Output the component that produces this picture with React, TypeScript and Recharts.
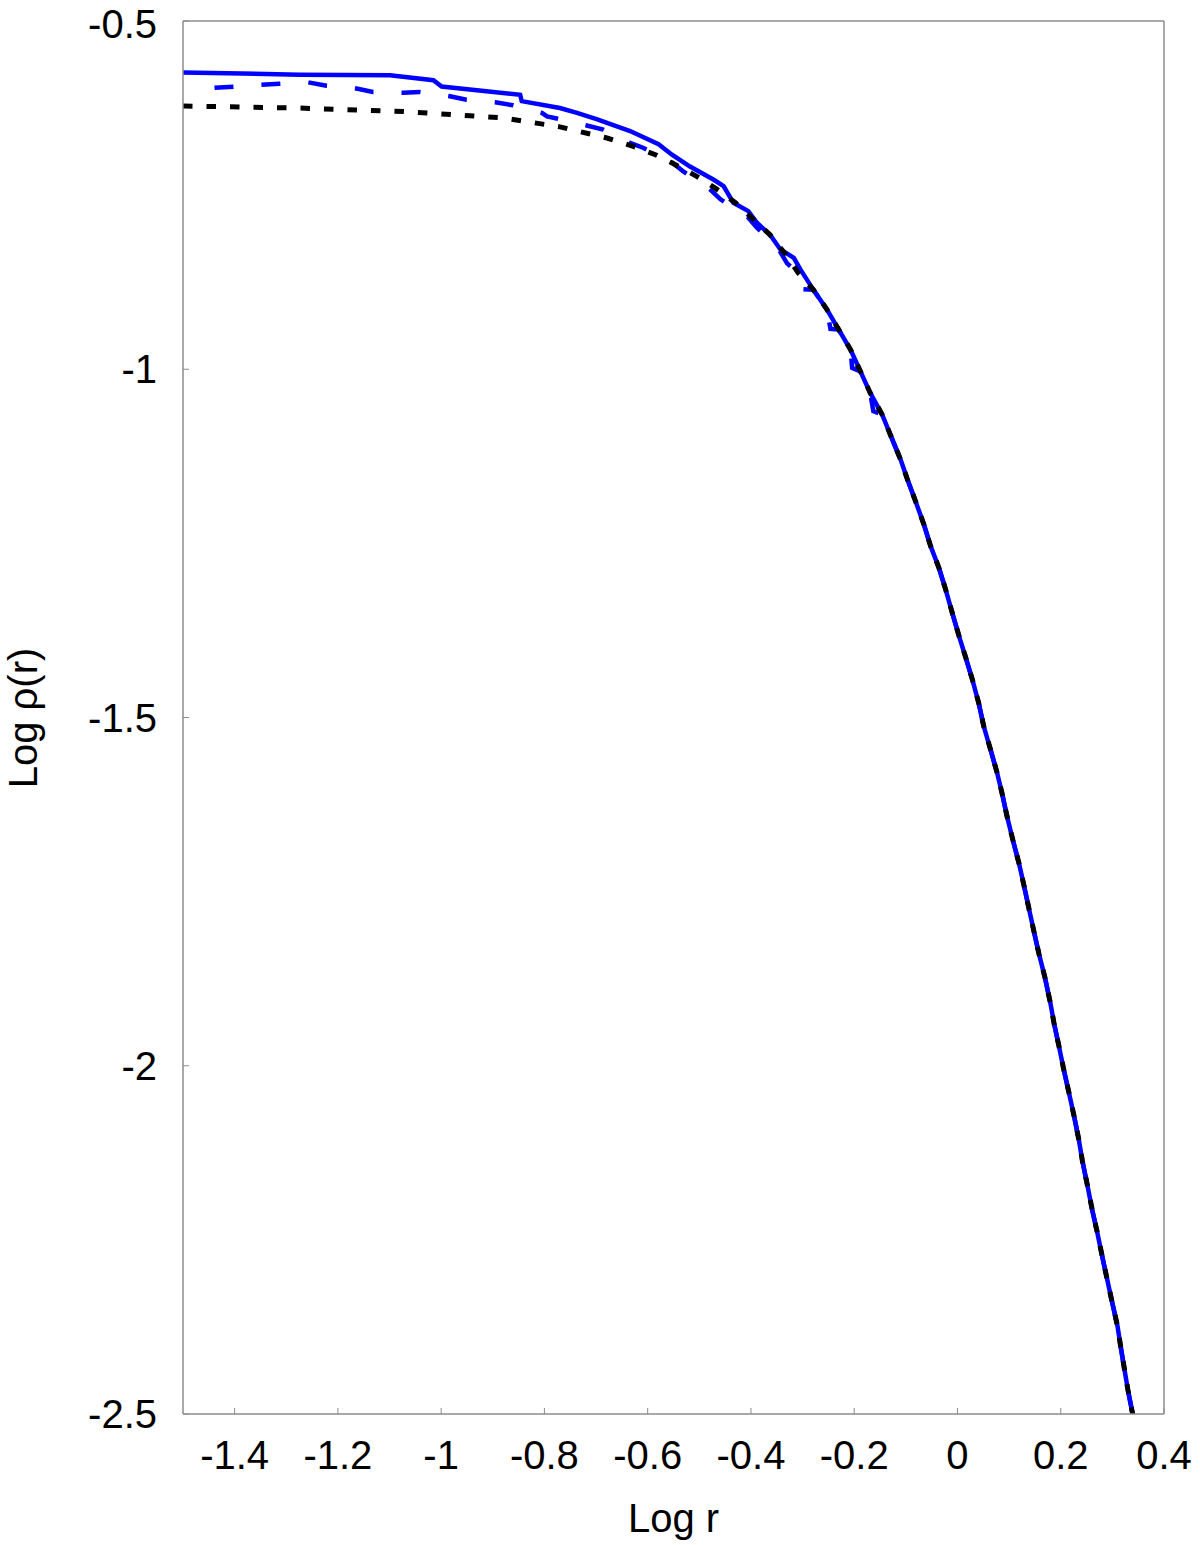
import React from 'react';
import { LineChart, Line, XAxis, YAxis } from 'recharts';

const FONT = '"Liberation Sans", Arial, Helvetica, sans-serif';
const FRAME = '#8c8c8c';

const xTicks = [-1.4, -1.2, -1, -0.8, -0.6, -0.4, -0.2, 0, 0.2, 0.4];
const yTicks = [-2.5, -2, -1.5, -1, -0.5];

// inner part, where the three profiles differ
const solidHeadX = [-1.5, -1.274, -1.099, -1.015, -0.999, -0.847, -0.844, -0.77, -0.737, -0.699, -0.653, -0.634, -0.579, -0.553, -0.518, -0.472, -0.453, -0.434, -0.405, -0.388, -0.363, -0.343, -0.317, -0.304];
const solidHeadY = [-0.574, -0.577, -0.578, -0.585, -0.594, -0.606, -0.615, -0.625, -0.632, -0.641, -0.653, -0.658, -0.677, -0.692, -0.709, -0.728, -0.737, -0.761, -0.773, -0.79, -0.807, -0.828, -0.84, -0.857];

const dashedHeadX = [-1.439, -1.313, -1.258, -1.222, -1.164, -1.132, -1.074, -1.041, -0.983, -0.951, -0.892, -0.861, -0.805, -0.795, -0.776, -0.718, -0.686, -0.634, -0.609, -0.556, -0.531, -0.483, -0.459, -0.408, -0.388, -0.35, -0.33, -0.308, -0.3, -0.279, -0.253, -0.246, -0.23, -0.207, -0.204, -0.188, -0.169, -0.163, -0.146];
const dashedHeadY = [-0.596, -0.59, -0.588, -0.593, -0.597, -0.602, -0.603, -0.602, -0.608, -0.613, -0.617, -0.621, -0.632, -0.637, -0.64, -0.65, -0.656, -0.675, -0.682, -0.701, -0.716, -0.739, -0.756, -0.78, -0.797, -0.823, -0.848, -0.862, -0.885, -0.886, -0.914, -0.942, -0.943, -0.972, -0.998, -1.003, -1.034, -1.06, -1.065];

const dottedHeadX = [-1.5, -1.274, -1.074, -0.88, -0.77, -0.679, -0.628, -0.585, -0.547, -0.505, -0.469, -0.43, -0.398, -0.363, -0.333, -0.308];
const dottedHeadY = [-0.622, -0.625, -0.63, -0.639, -0.652, -0.668, -0.68, -0.692, -0.706, -0.723, -0.74, -0.761, -0.783, -0.807, -0.835, -0.862];

// outer part, where all three lie on top of each other
const tailX = [-0.279, -0.253, -0.23, -0.207, -0.188, -0.169, -0.146, -0.13, -0.11, -0.097, -0.081, -0.065, -0.052, -0.036, -0.023, -0.01, 0.003, 0.016, 0.029, 0.041, 0.051, 0.064, 0.077, 0.087, 0.096, 0.108, 0.119, 0.129, 0.138, 0.148, 0.158, 0.169, 0.18, 0.187, 0.196, 0.206, 0.216, 0.226, 0.235, 0.242, 0.252, 0.261, 0.271, 0.281, 0.29, 0.3, 0.31, 0.316, 0.323, 0.33, 0.339, 0.345];
const tailY = [-0.886, -0.914, -0.943, -0.972, -1.003, -1.034, -1.065, -1.094, -1.13, -1.158, -1.19, -1.223, -1.254, -1.285, -1.316, -1.35, -1.383, -1.414, -1.446, -1.479, -1.513, -1.546, -1.58, -1.611, -1.642, -1.678, -1.709, -1.742, -1.773, -1.807, -1.84, -1.872, -1.91, -1.939, -1.97, -2.006, -2.039, -2.073, -2.106, -2.137, -2.173, -2.207, -2.24, -2.276, -2.307, -2.341, -2.374, -2.403, -2.434, -2.465, -2.499, -2.53];

const toPoints = (xs: number[], ys: number[]) => xs.map((x, i) => ({ x, y: ys[i] }));

const tail = toPoints(tailX, tailY);
const solidData = [...toPoints(solidHeadX, solidHeadY), ...tail];
const dashedData = [
  ...toPoints(dashedHeadX, dashedHeadY),
  ...tail.filter((p) => p.x > dashedHeadX[dashedHeadX.length - 1]),
];
const dottedData = [...toPoints(dottedHeadX, dottedHeadY), ...tail];

const tickStyle = { fill: '#000', fontSize: 40, fontFamily: FONT };
const fmt = (v: number) => String(v);

export default function App() {
  return (
    <div style={{ position: 'absolute', left: 0, top: 0, width: 1200, height: 1545, background: '#fff' }}>
      <LineChart width={1200} height={1545} margin={{ top: 0, right: 0, bottom: 0, left: 0 }}>
        <XAxis
          dataKey="x"
          type="number"
          domain={[-1.5, 0.4]}
          ticks={xTicks}
          tickFormatter={fmt}
          allowDataOverflow
          height={131}
          tickSize={-6}
          tickMargin={33}
          axisLine={{ stroke: FRAME, strokeWidth: 1.5 }}
          tickLine={{ stroke: FRAME }}
          tick={tickStyle}
          label={{ value: 'Log r', position: 'insideBottom', offset: 13, fill: '#000', fontSize: 40, fontFamily: FONT }}
        />
        <XAxis
          xAxisId="top"
          orientation="top"
          type="number"
          domain={[-1.5, 0.4]}
          ticks={xTicks}
          allowDataOverflow
          height={21}
          tickSize={-6}
          axisLine={{ stroke: FRAME, strokeWidth: 1.5 }}
          tickLine={{ stroke: FRAME }}
          tick={false}
        />
        <YAxis
          type="number"
          domain={[-2.5, -0.5]}
          ticks={yTicks}
          tickFormatter={fmt}
          allowDataOverflow
          width={183}
          tickSize={-6}
          tickMargin={32}
          axisLine={{ stroke: FRAME, strokeWidth: 1.5 }}
          tickLine={{ stroke: FRAME }}
          tick={tickStyle}
          label={{
            content: () => (
              <text x={37} y={718} transform="rotate(-90 37 718)" textAnchor="middle" fontSize={40} fontFamily={FONT} fill="#000">
                Log ρ(r)
              </text>
            ),
          }}
        />
        <YAxis
          yAxisId="right"
          orientation="right"
          type="number"
          domain={[-2.5, -0.5]}
          ticks={yTicks}
          allowDataOverflow
          width={36}
          tickSize={-6}
          axisLine={{ stroke: FRAME, strokeWidth: 1.5 }}
          tickLine={{ stroke: FRAME }}
          tick={false}
        />
        <Line data={solidData} dataKey="y" type="linear" stroke="#0000ff" strokeWidth={4.5} dot={false} isAnimationActive={false} />
        <Line data={dashedData} dataKey="y" type="linear" stroke="#0000ff" strokeWidth={4.5} strokeDasharray="19 28" dot={false} isAnimationActive={false} />
        <Line data={dottedData} dataKey="y" type="linear" stroke="#000" strokeWidth={5} strokeDasharray="9.5 14" dot={false} isAnimationActive={false} />
      </LineChart>
    </div>
  );
}
